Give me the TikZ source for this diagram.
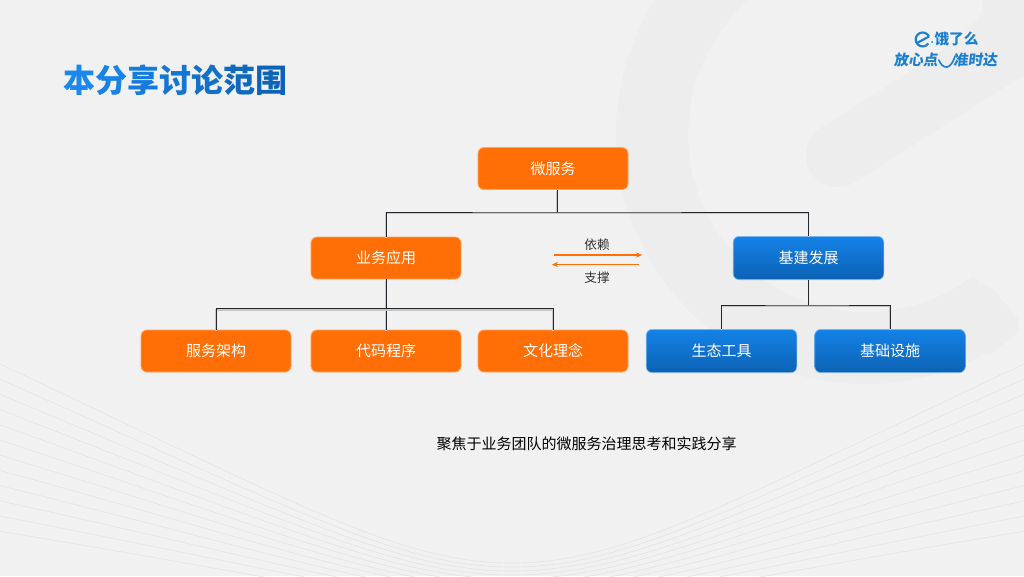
\documentclass[tikz,border=0pt]{standalone}
\usepackage{xcolor}
\usepackage{fontspec}
\setmainfont{Noto Sans CJK SC}
\usetikzlibrary{arrows.meta}
\definecolor{paper}{HTML}{F1F1F1}
\definecolor{wmark}{HTML}{EDEDED}
\definecolor{fanline}{HTML}{E4E4E4}
\definecolor{orangebox}{HTML}{FF6F06}
\definecolor{orangeedge}{HTML}{FFA35F}
\definecolor{bluetop}{HTML}{1482E8}
\definecolor{bluebot}{HTML}{0C62B4}
\definecolor{blueedge}{HTML}{8DBBE8}
\definecolor{titlelt}{HTML}{1A88EE}
\definecolor{titledk}{HTML}{0D63B5}
\definecolor{logoblue}{HTML}{1C80D2}
\definecolor{wirecol}{HTML}{23272B}
\tikzset{
    orangenode/.style={rectangle,rounded corners=4.5pt,minimum width=112.5pt,minimum height=31.5pt,
        fill=orangebox,draw=orangeedge,line width=.6pt,text=white,font=\fontsize{11.25}{13}\selectfont},
    bluenode/.style={rectangle,rounded corners=4.5pt,minimum width=113pt,minimum height=32.5pt,
        top color=bluetop,bottom color=bluebot,draw=blueedge,line width=.5pt,text=white,font=\fontsize{11.25}{13}\selectfont},
    wireline/.style={wirecol,line width=.75pt,preaction={draw=black!22,line width=1pt,transform canvas={yshift=-1pt}}},
    flowline/.style={orangebox,line width=.8pt,-{Stealth[length=4.5pt,width=4pt]}},
    flowtext/.style={text=black!80,font=\fontsize{9.5}{11}\selectfont},
    logotext/.style={text=logoblue,inner sep=0pt,font=\fontsize{11}{13}\bfseries\selectfont},
}
\begin{document}
\begin{tikzpicture}[x=.75pt,y=-.75pt]
    \useasboundingbox (0,0) rectangle (1024,576);
    \fill[paper](0,0) rectangle (1024,576);
    % watermark
    \begin{scope}
        \clip (0,0) rectangle (1024,576);
        \draw[wmark,line width=54pt](866,134)++(53:214) arc[start angle=53,end angle=290,radius=214];
        \fill[wmark,rounded corners=10pt](945,305)--(985,279)--(1024,326)--(985,360)--cycle;
        \draw[wmark,line width=48pt,line cap=round](838,155)--(1090,-5);
        \fill[wmark](982,-1) .. controls (984,12) and (978,22) .. (966,30) -- (1024,60) -- (1024,-1) -- cycle;
    \end{scope}
    % fan lines
    \foreach \i in {0,...,11}{
        \draw[fanline,line width=.5pt](0,364+15.2*\i) .. controls (300,505+6.9*\i) and (400,563+4*\i) .. (512,563+4*\i);
        \draw[fanline,line width=.5pt](1024,364+15.2*\i) .. controls (724,505+6.9*\i) and (624,563+4*\i) .. (512,563+4*\i);
    }
    % title
    \node[anchor=center,font=\fontsize{24}{28}\bfseries\selectfont] (title) at (175.5,80.5) {\foreach \ch/\pct in {本/100,分/84,享/68,讨/50,论/34,范/16,围/0}{\textcolor{titlelt!\pct!titledk}{\ch}}};
    % logo
    \node[logotext,font=\fontsize{11}{13}\bfseries\selectfont] (logotop) at (956.5,39.5) {饿了么};
    \node[logotext,xslant=.12] (logoleft) at (916.5,60) {放心点};
    \node[logotext,xslant=.12] (logoright) at (976,60) {准时达};
    \draw[logoblue,line width=1.6pt](929,36.5) arc[start angle=-25,end angle=-325,radius=7];
    \draw[logoblue,line width=1.6pt](917,43)--(929,36.5);
    \fill[logoblue](932,42) circle[radius=1];
    \draw[logoblue,line width=1.2pt,line cap=round](logoleft.east) .. controls (943,70) and (951,70) .. (955,56);
    % boxes
    \node[orangenode] (micro) at (553,168.5) {微服务};
    \node[orangenode] (biz) at (386,258) {业务应用};
    \node[bluenode] (infra) at (808.5,258) {基建发展};
    \node[orangenode] (arch) at (216,351) {服务架构};
    \node[orangenode] (code) at (386,351) {代码程序};
    \node[orangenode] (culture) at (553,351) {文化理念};
    \node[bluenode] (tools) at (721.5,351) {生态工具};
    \node[bluenode] (base) at (890,351) {基础设施};
    % connectors
    \coordinate (rootbus) at (557,212);
    \coordinate (bizbus) at (386,308.5);
    \coordinate (infrabus) at (808.5,305);
    \draw[wireline](rootbus |- micro.south)--(rootbus);
    \draw[wireline](biz.north) |- (rootbus) -| (infra.north);
    \draw[wireline](biz.south)--(code.north);
    \draw[wireline](arch.north) |- (bizbus) -| (culture.north);
    \draw[wireline](infra.south)--(infrabus);
    \draw[wireline](tools.north) |- (infrabus) -| (base.north);
    % depends and supports
    \node[flowtext] (dep) at (597,245) {依赖};
    \node[flowtext] (sup) at (597,278) {支撑};
    \coordinate (depa) at (554,255);
    \coordinate (depb) at (642,255);
    \coordinate (supa) at (639,264.5);
    \coordinate (supb) at (552,264.5);
    \draw[flowline](depa)--(depb);
    \draw[flowline](supa)--(supb);
    \node[text=black,font=\fontsize{11.25}{13}\selectfont] (note) at (586.5,444) {聚焦于业务团队的微服务治理思考和实践分享};
  \end{tikzpicture}
\end{document}
